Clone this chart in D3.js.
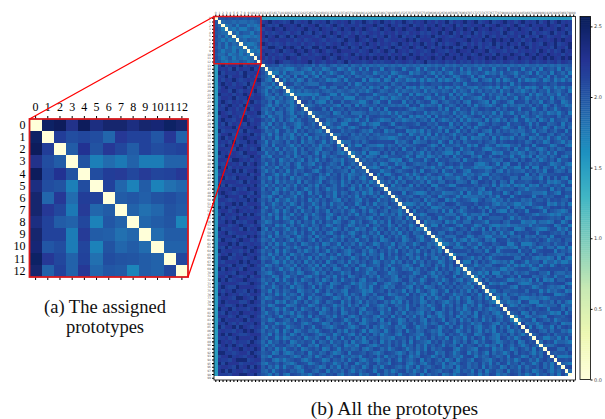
<!DOCTYPE html>
<html>
<head>
<meta charset="utf-8">
<script src="https://cdn.jsdelivr.net/npm/d3@7"></script>
<style>
  html, body { margin: 0; padding: 0; background: #fff; }
  svg { display: block; }
</style>
</head>
<body>
<script>
// Assigned prototypes, distances estimated cell by cell from panel (a)
var assignedLabels = ["0","1","2","3","4","5","6","7","8","9","10","11","12"];
var assigned = [
  [0,2.50,2.55,2.30,2.55,2.35,2.45,2.45,2.35,2.45,2.42,2.50,2.45],
  [2.50,0,2.18,2.06,2.10,2.05,1.88,2.22,2.14,2.14,1.98,2.22,1.90],
  [2.55,2.18,0,1.94,2.26,2.02,2.22,2.10,1.94,2.14,2.06,2.10,2.14],
  [2.30,2.06,1.94,0,2.02,1.72,1.84,1.76,1.90,1.74,1.74,1.90,1.90],
  [2.55,2.10,2.26,2.02,0,2.05,2.18,2.20,2.10,2.20,2.12,2.14,2.22],
  [2.35,2.05,2.02,1.72,2.05,0,2.14,1.88,1.70,1.95,1.70,1.82,1.88],
  [2.45,1.88,2.22,1.84,2.18,2.14,0,1.95,1.98,1.92,2.02,2.06,1.98],
  [2.45,2.22,2.10,1.76,2.20,1.88,1.95,0,1.90,1.82,1.88,2.02,1.96],
  [2.35,2.14,1.94,1.90,2.10,1.70,1.98,1.90,0,1.88,1.94,2.00,1.68],
  [2.45,2.14,2.14,1.74,2.20,1.95,1.92,1.82,1.88,0,1.84,1.94,1.94],
  [2.42,1.98,2.06,1.74,2.12,1.70,2.02,1.88,1.94,1.84,0,1.90,1.90],
  [2.50,2.22,2.10,1.90,2.14,1.82,2.06,2.02,2.00,1.94,1.90,0,2.10],
  [2.45,1.90,2.14,1.90,2.22,1.88,1.98,1.96,1.68,1.94,1.90,2.10,0]
];

// All prototypes: lower triangle, one digit per cell, grouped in tens.
// Only the regions and their tone are read from panel (b): the teal first
// column, dark columns 1-12 and the lighter rest. The picture is too small
// to read 4950 cells, so the cell-to-cell speckle is hand-typed to look alike,
// it is not the real value of each cell. Symmetry is assumed too.
var levels = [1.50,1.76,1.85,1.93,2.00,2.06,2.11,2.17,2.25,2.40];
var allRows = [
"",
"4",
"42",
"531",
"4322",
"52413",
"431312",
"5241423",
"42413122",
"531331412",
"4224123131",
"5312413212 3",
"4421322431 24",
"0796887968 786",
"0878696877 9674",
"0968778697 78852",
"0779688796 867431",
"0868797678 7895216",
"0797868769 67823415",
"0689778896 886421413",
"0788697687 7963152463",
"0977868798 6874136252 1",
"0688796779 7885321425 32",
"0797687868 9674526134 215",
"0868978697 7885314252 4136",
"0779786879 6883241635 21463",
"0987687768 8794135226 315324",
"0688978696 7762513425 4216352",
"0797768898 6885341526 31425634",
"0869687769 7872416352 542136425",
"0778896878 8963152441 3621524353",
"0967778696 7885234165 2415363421 4",
"0688967787 9673415262 3152416533 24",
"0796877898 7782536142 4136251425 352",
"0878696779 8964152346 2536142364 1524",
"0769887968 7873261545 3142635241 32461",
"0887769878 6792435162 4315263421 543625",
"0978687698 8865143526 3415236415 2364213",
"0679887767 9782316454 2513642536 14235441",
"0887699878 6873542613 4253162415 364231533",
"0768878696 8974153624 2631542153 6423516424",
"0979687877 7862534152 3641253641 5243263152 4",
"0788796968 8973142635 1524365214 6325432614 33",
"0687878779 6882653141 3526413562 4153624123 425",
"0896769887 7963415253 6142353641 2534625135 2146",
"0778887696 8872536142 4351624531 6423514263 52413",
"0969678878 7963142536 2415362415 3642513624 161532",
"0787896769 8872635141 3526413526 4132546315 2431643",
"0898767887 6973451263 5241361524 6341523642 51314263",
"0679888696 8782314625 4315264351 6241635241 536425134",
"0887678779 7963526143 1425361425 3642153642 1536514352",
"0768897968 8872641352 4136254136 2514326451 3625143264 3",
"0979768787 6983152436 2541362514 3635241536 2143526314 52",
"0788689878 7872463151 3625143625 4163425314 6251364263 314",
"0697878696 9763514262 4153624135 6214635241 5364251342 5136",
"0868769887 7882436151 2536416324 5136142564 3421536425 32614",
"0779896768 8963125464 3152634152 6341256314 2653142516 342535",
"0888678977 6872546131 5264135236 4125364125 3416325413 6254136",
"0967788696 8793162453 1426351426 3541362541 3264153624 15362412",
"0789678887 7862435162 4315264153 6214635214 6352416352 415362342",
"0878896769 8973516243 2641352614 3562413526 4135241635 2413652164",
"0697768988 6862341546 3152463162 5413526341 5426351246 3512463145 2",
"0888979677 8773625141 4536124536 1254163425 1364125341 6325413652 31",
"0769688897 7984152364 2413652415 3632415264 3513625413 6241536242 531",
"0978877686 9862436151 3562413526 4153642135 6241363524 1635241536 2415",
"0687968798 7873514262 5134265341 2635142163 4152341625 3641253614 25363",
"0899678867 8962341534 1625341625 3412536413 6425361534 1536241536 214251",
"0768887979 7783652141 4253614253 6146325142 5364125341 4263514263 5412536",
"0887697768 9864125363 2416352416 1532641536 2154326314 5421365143 62415264",
"0969878698 7772536414 3152643142 5361254361 5421535261 4523142536 416352413",
"0778769887 8963214652 5341265314 2635413264 5413265412 3565412563 1425363142 5",
"0886987679 6883541262 1436521436 5241536124 6352415342 1635236415 2143651642 31",
"0979678898 7762436151 4625134625 1362514536 2154623542 1366254136 5241364215 314",
"0688887667 9873152644 2513462531 4612365413 1243165213 4625314256 3416352634 1425",
"0797669888 8762541363 5142364162 5314652364 1241563132 6542163512 3642536342 31635",
"0868797769 7983416252 3561243514 6253421654 3121543625 3416251463 1254163524 152636",
"0979878676 8872635141 4236154256 3126341524 6135265412 3541635214 1362541324 6351524",
"0688769987 6963124563 2451361423 5641253152 4363421654 1236534162 4135624153 16425143",
"0797888668 9872546131 5314625314 6235614263 1524365241 3152634125 3642135264 125364213",
"0886679897 7763412565 1236451246 3541325142 6315421365 2341536241 3561426351 42514635 21",
"0978968776 8982653141 4625134625 1362514536 2154632416 5241563234 1562536241 36425312 364",
"0769787988 7873145262 3152463561 2453612546 1423561436 2415342153 6213526413 25164352 1342",
"0888679767 9862536414 6341251635 4241536213 6345214361 5362415261 3412536142 53162435 21536",
"0697887896 8773412653 2516345214 6325641352 6134251635 4126345216 3541632514 26351426 325413",
"0879768678 7982645131 3465213654 1263425146 2135642316 5134625314 2365142635 41326542 1536412",
"0968896987 6873152464 1345264156 3213564213 6526241345 2315641325 6413526415 36214531 62415363",
"0787768798 9762534161 3612452314 6536241536 4151235146 3261452364 2315464135 26315241 536214256",
"0896987667 8883416252 5136246531 2451364215 2636241345 2156432156 3412635413 56124652 1436253142",
"0778679888 7973265141 2453613425 6142615362 4153462321 5436251436 2534162341 52641532 1652413653 1",
"0987868776 9762514363 6124354162 3514352614 3126361425 3526164321 5362451352 63142563 1245361264 52",
"0689797689 8873142556 3241562316 4352461231 5642135426 3514362415 3641532615 34624132 5164253136 425",
"0878688978 7982635141 4536124536 1264153423 6213652413 5641352416 2435662145 32165461 3254136425 1635",
"0997767886 9763451262 1254361452 3631246155 4364213654 2136241536 5132641356 14253162 4313626453 14263",
"0688978768 8972316544 5312642513 6425613423 1564625143 5264132654 1352642315 65142364 2351654126 352641",
"0877689996 7883562131 3465213654 1263425146 2135213526 4153246153 6425136145 31653214 6352413652 4146352",
"0969888677 8762145363 2136541246 3541352661 3425624316 5462135214 6341521365 24362415 2651436254 13624153",
"0788769789 6983624151 4521364531 2624163524 5136241565 3241361532 4651326145 24361524 5126341524 536241536",
"0896978867 8873251464 6342156325 6153426314 2465156241 3562413516 4325462153 41626145 2361542635 12463142 56",
"0777688998 7964315262 1654231463 2546215346 1325615243 6145326152 4361241356 32514265 1324652413 51436251 626"
];
var allLabels = d3.range(100).map(String);
var colorbarTicks = [0, 0.5, 1.0, 1.5, 2.0, 2.5];
var colorMax = 2.57;

// Expands the triangle to a full list of cells
var allCells = [];
allRows.forEach(function(row, i) {
    var digits = row.replace(/ /g, "");
    for (let j = 0; j < i; j++) {
        var v = levels[+digits[j]];
        allCells.push({row: i, col: j, value: v});
        allCells.push({row: j, col: i, value: v});
    }
    allCells.push({row: i, col: i, value: 0});
});

var assignedCells = [];
assigned.forEach(function(row, i) {
    row.forEach(function(v, j) {
        assignedCells.push({row: i, col: j, value: v});
    });
});

var width = 605, height = 419;

var svg = d3.select("body")
            .append("svg")
            .attr("width", width)
            .attr("height", height);

// Slight blur, the reference is a resampled raster
var defs = svg.append("defs");
defs.append("filter")
    .attr("id", "soft")
    .attr("x", "-2%").attr("y", "-2%")
    .attr("width", "104%").attr("height", "104%")
    .append("feGaussianBlur")
    .attr("stdDeviation", 0.35);

// YlGnBu, stretched over 0 to the top of the colorbar
var ylGnBu = d3.schemeYlGnBu[9];
var color = d3.scaleLinear()
    .domain(ylGnBu.map(function(c, i) { return i / 8 * colorMax; }))
    .range(ylGnBu);

function drawCells(g, cells, x, y) {
    g.attr("filter", "url(#soft)")
        .selectAll("rect")
        .data(cells)
        .enter().append("rect")
        .attr("x", function(d) { return x(d.col); })
        .attr("y", function(d) { return y(d.row); })
        .attr("width", x.bandwidth())
        .attr("height", y.bandwidth())
        .attr("shape-rendering", "crispEdges")
        .attr("fill", function(d) { return color(d.value); });
}

// Panel (b)
var bx = d3.scaleBand().domain(d3.range(100)).range([214, 575.5]);
var by = d3.scaleBand().domain(d3.range(100)).range([16.5, 380]);

drawCells(svg.append("g"), allCells, bx, by);

function tinyAxis(axis, transform) {
    var g = svg.append("g")
        .attr("transform", transform)
        .call(axis);
    g.select(".domain").remove();
    g.selectAll("line").attr("stroke", "#000").attr("stroke-width", 1.1);
    g.selectAll("text")
        .attr("font-family", "'DejaVu Sans', sans-serif")
        .attr("font-size", 3)
        .attr("fill", "#666");
    return g;
}

var bTick = function(d) { return allLabels[d]; };
tinyAxis(d3.axisTop(bx).tickFormat(bTick).tickSize(2).tickPadding(1), "translate(0,16.5)");
tinyAxis(d3.axisLeft(by).tickFormat(bTick).tickSize(2).tickPadding(1), "translate(214,0)");
tinyAxis(d3.axisBottom(bx).tickFormat("").tickSize(2), "translate(0,380)");

svg.append("rect")
    .attr("x", 214).attr("y", 16.5)
    .attr("width", 361.5).attr("height", 363.5)
    .attr("fill", "none")
    .attr("stroke", "#000")
    .attr("stroke-width", 0.8);

// Panel (a)
var ax = d3.scaleBand().domain(d3.range(13)).range([29.5, 188]);
var ay = d3.scaleBand().domain(d3.range(13)).range([119, 277]);

drawCells(svg.append("g"), assignedCells, ax, ay);

function serifAxis(axis, transform) {
    var g = svg.append("g")
        .attr("transform", transform)
        .call(axis);
    g.select(".domain").remove();
    g.selectAll("line").attr("stroke", "#000").attr("stroke-width", 1);
    g.selectAll("text")
        .attr("font-family", "'Liberation Serif', serif")
        .attr("font-size", 12)
        .attr("fill", "#000");
    return g;
}

var aTick = function(d) { return assignedLabels[d]; };
serifAxis(d3.axisTop(ax).tickFormat(aTick).tickSize(3).tickPadding(5), "translate(0,119)");
serifAxis(d3.axisLeft(ay).tickFormat(aTick).tickSize(0).tickPadding(4), "translate(29.5,0)");
serifAxis(d3.axisBottom(ax).tickFormat("").tickSize(3), "translate(0,277)");

// Red zoom box and its connecting lines
var boxX0 = bx(0), boxX1 = bx(12) + bx.bandwidth();
var boxY0 = by(0), boxY1 = by(12) + by.bandwidth();

svg.append("rect")
    .attr("x", ax.range()[0]).attr("y", ay.range()[0])
    .attr("width", ax.range()[1] - ax.range()[0])
    .attr("height", ay.range()[1] - ay.range()[0])
    .attr("fill", "none")
    .attr("stroke", "#d7191c")
    .attr("stroke-width", 1.8);

svg.append("rect")
    .attr("x", boxX0).attr("y", boxY0)
    .attr("width", boxX1 - boxX0)
    .attr("height", boxY1 - boxY0)
    .attr("fill", "none")
    .attr("stroke", "#e0141a")
    .attr("stroke-width", 1.5);

svg.append("line")
    .attr("x1", ax.range()[0]).attr("y1", ay.range()[0])
    .attr("x2", boxX0).attr("y2", boxY0)
    .attr("stroke", "#f00").attr("stroke-width", 1.3);

svg.append("line")
    .attr("x1", ax.range()[1]).attr("y1", ay.range()[1])
    .attr("x2", boxX1).attr("y2", boxY1)
    .attr("stroke", "#f00").attr("stroke-width", 1.3);

// Colorbar
var cbScale = d3.scaleLinear().domain([0, colorMax]).range([379.5, 16.5]);

svg.append("g").selectAll("rect")
    .data(d3.range(0, colorMax, colorMax / 180))
    .enter().append("rect")
    .attr("x", 580)
    .attr("y", function(d) { return cbScale(d + colorMax / 180); })
    .attr("width", 10.5)
    .attr("height", 363 / 180 + 0.4)
    .attr("fill", function(d) { return color(d); });

svg.append("rect")
    .attr("x", 580).attr("y", 16.5)
    .attr("width", 10.5).attr("height", 363)
    .attr("fill", "none")
    .attr("stroke", "#000")
    .attr("stroke-width", 0.8);

var cbAxis = svg.append("g")
    .attr("transform", "translate(590.5,0)")
    .call(d3.axisRight(cbScale)
        .tickValues(colorbarTicks)
        .tickFormat(d3.format(".1f"))
        .tickSize(2)
        .tickPadding(1.5));
cbAxis.select(".domain").remove();
cbAxis.selectAll("text")
    .attr("font-family", "'DejaVu Sans', sans-serif")
    .attr("font-size", 5)
    .attr("fill", "#444");

// Captions
var caption = svg.append("g")
    .attr("font-family", "'Liberation Serif', serif")
    .attr("fill", "#111")
    .attr("text-anchor", "middle");

caption.append("text").attr("x", 105).attr("y", 313).attr("font-size", 18.5).text("(a) The assigned");
caption.append("text").attr("x", 105).attr("y", 333).attr("font-size", 18.5).text("prototypes");
caption.append("text").attr("x", 394.5).attr("y", 414.5).attr("font-size", 19.5).text("(b) All the prototypes");
</script>
</body>
</html>
